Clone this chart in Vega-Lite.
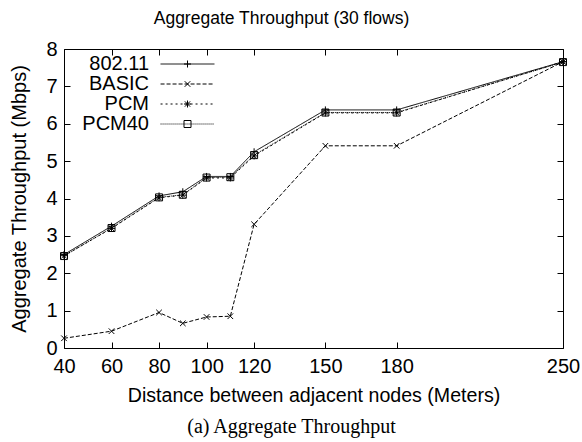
{
  "$schema": "https://vega.github.io/schema/vega-lite/v6.json",
  "width": 499,
  "height": 299,
  "autosize": "none",
  "padding": {"left": 64, "top": 49, "right": 19, "bottom": 94},
  "background": "white",
  "config": {
    "font": "Liberation Sans",
    "view": {"stroke": "black", "strokeWidth": 1},
    "axis": {
      "grid": false,
      "domain": false,
      "tickColor": "black",
      "tickWidth": 1,
      "labelColor": "black",
      "titleColor": "black",
      "labelFont": "Liberation Sans",
      "titleFont": "Liberation Sans",
      "titleFontWeight": "normal",
      "labelFlush": false,
      "labelOverlap": false,
      "labelBound": false
    }
  },
  "title": {
    "text": "(a) Aggregate Throughput",
    "orient": "bottom",
    "font": "Liberation Serif",
    "fontSize": 20,
    "fontWeight": "normal",
    "color": "black",
    "anchor": "middle",
    "dx": -22,
    "offset": 12
  },
  "data": {
    "values": [
      {"series": "802.11", "distance": 40, "throughput": 2.50},
      {"series": "802.11", "distance": 60, "throughput": 3.26},
      {"series": "802.11", "distance": 80, "throughput": 4.07},
      {"series": "802.11", "distance": 90, "throughput": 4.18},
      {"series": "802.11", "distance": 100, "throughput": 4.59},
      {"series": "802.11", "distance": 110, "throughput": 4.59},
      {"series": "802.11", "distance": 120, "throughput": 5.25},
      {"series": "802.11", "distance": 150, "throughput": 6.37},
      {"series": "802.11", "distance": 180, "throughput": 6.37},
      {"series": "802.11", "distance": 250, "throughput": 7.66},
      {"series": "BASIC", "distance": 40, "throughput": 0.26},
      {"series": "BASIC", "distance": 60, "throughput": 0.45},
      {"series": "BASIC", "distance": 80, "throughput": 0.95},
      {"series": "BASIC", "distance": 90, "throughput": 0.66},
      {"series": "BASIC", "distance": 100, "throughput": 0.83},
      {"series": "BASIC", "distance": 110, "throughput": 0.85},
      {"series": "BASIC", "distance": 120, "throughput": 3.31},
      {"series": "BASIC", "distance": 150, "throughput": 5.41},
      {"series": "BASIC", "distance": 180, "throughput": 5.41},
      {"series": "BASIC", "distance": 250, "throughput": 7.66},
      {"series": "PCM", "distance": 40, "throughput": 2.47},
      {"series": "PCM", "distance": 60, "throughput": 3.20},
      {"series": "PCM", "distance": 80, "throughput": 4.02},
      {"series": "PCM", "distance": 90, "throughput": 4.09},
      {"series": "PCM", "distance": 100, "throughput": 4.55},
      {"series": "PCM", "distance": 110, "throughput": 4.55},
      {"series": "PCM", "distance": 120, "throughput": 5.14},
      {"series": "PCM", "distance": 150, "throughput": 6.29},
      {"series": "PCM", "distance": 180, "throughput": 6.29},
      {"series": "PCM", "distance": 250, "throughput": 7.66},
      {"series": "PCM40", "distance": 40, "throughput": 2.46},
      {"series": "PCM40", "distance": 60, "throughput": 3.21},
      {"series": "PCM40", "distance": 80, "throughput": 4.03},
      {"series": "PCM40", "distance": 90, "throughput": 4.10},
      {"series": "PCM40", "distance": 100, "throughput": 4.56},
      {"series": "PCM40", "distance": 110, "throughput": 4.57},
      {"series": "PCM40", "distance": 120, "throughput": 5.16},
      {"series": "PCM40", "distance": 150, "throughput": 6.30},
      {"series": "PCM40", "distance": 180, "throughput": 6.30},
      {"series": "PCM40", "distance": 250, "throughput": 7.65}
    ]
  },
  "layer": [
    {
      "mark": {"type": "line", "color": "black", "strokeWidth": 1},
      "encoding": {
        "x": {
          "field": "distance", "type": "quantitative",
          "scale": {"domain": [40, 250], "nice": false, "zero": false},
          "axis": {
            "orient": "bottom",
            "values": [40, 60, 80, 100, 120, 150, 180, 250],
            "tickSize": -6,
            "labelFontSize": 20,
            "labelPadding": 14,
            "title": "Distance between adjacent nodes (Meters)",
            "titleFontSize": 19.6,
            "titlePadding": 10
          }
        },
        "y": {
          "field": "throughput", "type": "quantitative",
          "scale": {"domain": [0, 8], "nice": false, "zero": false},
          "axis": {
            "orient": "left",
            "values": [0, 1, 2, 3, 4, 5, 6, 7, 8],
            "tickSize": -6,
            "labelFontSize": 20,
            "labelPadding": 13,
            "title": "Aggregate Throughput (Mbps)",
            "titleFontSize": 20,
            "titlePadding": 16
          }
        },
        "strokeDash": {
          "field": "series", "type": "nominal",
          "scale": {"range": [[1, 0], [4, 2], [2, 3], [1, 1]]},
          "legend": {
            "orient": "none",
            "legendX": 113.5,
            "legendY": 5,
            "title": null,
            "padding": 0,
            "symbolType": "M-7.7,0H7.7",
            "symbolSize": 49,
            "symbolStrokeWidth": 1,
            "symbolStrokeColor": "black",
            "symbolFillColor": "transparent",
            "labelFontSize": 20,
            "labelColor": "black",
            "labelAlign": "right",
            "labelOffset": -48.5,
            "rowPadding": 0
          }
        }
      }
    },
    {
      "mark": {"type": "point", "color": "black", "filled": false, "strokeWidth": 1, "opacity": 1, "size": 49},
      "encoding": {
        "x": {
          "field": "distance", "type": "quantitative",
          "axis": {
            "orient": "top",
            "values": [40, 60, 80, 100, 120, 150, 180, 250],
            "tickSize": -6,
            "labels": false,
            "title": "Aggregate Throughput (30 flows)",
            "titleFontSize": 17.5,
            "titlePadding": 21,
            "titleX": 217
          }
        },
        "y": {
          "field": "throughput", "type": "quantitative",
          "axis": {
            "orient": "right",
            "values": [0, 1, 2, 3, 4, 5, 6, 7, 8],
            "tickSize": -6,
            "labels": false,
            "title": null
          }
        },
        "shape": {
          "field": "series", "type": "nominal",
          "scale": {
            "domain": ["802.11", "BASIC", "PCM", "PCM40"],
            "range": [
              "M-1,0H1M0,-1V1",
              "M-0.8,-0.8L0.8,0.8M-0.8,0.8L0.8,-0.8",
              "M-1,0H1M0,-1V1M-0.75,-0.75L0.75,0.75M-0.75,0.75L0.75,-0.75",
              "square"
            ]
          },
          "legend": {
            "orient": "none",
            "legendX": 113.5,
            "legendY": 5,
            "title": null,
            "padding": 0,
            "symbolSize": 49,
            "symbolStrokeWidth": 1,
            "symbolStrokeColor": "black",
            "labelFontSize": 20,
            "labelOpacity": 0,
            "rowPadding": 0
          }
        }
      }
    }
  ],
  "resolve": {"axis": {"x": "independent", "y": "independent"}}
}
